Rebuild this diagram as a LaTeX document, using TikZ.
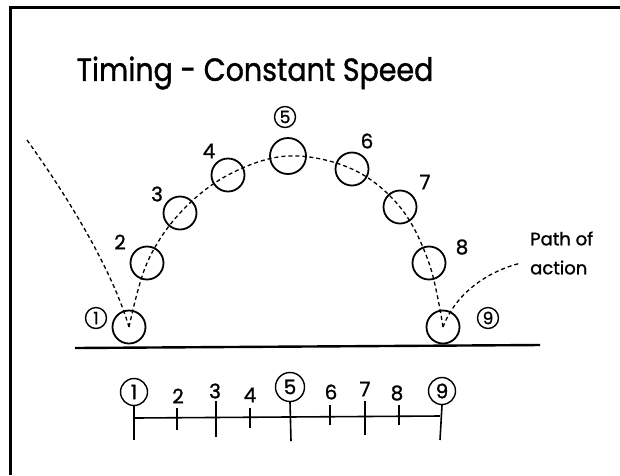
\documentclass[tikz,border=0pt]{standalone}
\usepackage{fontspec}
\setmainfont{Poppins}[UprightFeatures={FakeBold=1.2}]
\begin{document}
\begin{tikzpicture}[x=1pt,y=-1pt,
  ball/.style={draw, circle, line width=1.8pt, minimum size=33pt, inner sep=0pt},
  bigball/.style={ball, minimum size=36pt},
  num/.style={font=\fontsize{20}{20}\selectfont, inner sep=0pt},
  cnum/.style={draw, circle, line width=1.4pt, font=\fontsize{17}{17}\selectfont, inner sep=0pt, minimum size=21pt},
  tnum/.style={cnum, minimum size=27pt, font=\fontsize{20}{20}\selectfont},
  path/.style={dashed, dash pattern=on 4pt off 3pt, line width=1.3pt},
  tick/.style={line width=1.6pt}
]
\useasboundingbox (0,0) rectangle (620,475);
\fill[white] (0,0) rectangle (620,475);
% frame
\coordinate (ftl) at (10,7);
\coordinate (ftr) at (620,7);
\coordinate (fbl) at (10,475);
\draw[line width=3pt] (fbl) -- (ftl) -- (ftr);
% title
\node[font=\fontsize{32}{32}\selectfont, inner sep=0pt] (title) at (255,73) {\scalebox{0.89}[1]{Timing - Constant Speed}};
% balls
\node[ball] (b1) at (129,327) {};
\node[ball] (b2) at (147,263) {};
\node[ball] (b3) at (180,213) {};
\node[ball] (b4) at (228,175) {};
\node[bigball] (b5) at (288,156) {};
\node[ball] (b6) at (352,169) {};
\node[ball] (b7) at (400,207) {};
\node[ball] (b8) at (429,263) {};
\node[ball] (b9) at (443,327) {};
% labels
\node[cnum] (l1) at (96,318) {1};
\node[num] (l2) at (120,242) {2};
\node[num] (l3) at (157,194) {3};
\node[num] (l4) at (209,151) {4};
\node[cnum] (l5) at (285,117) {5};
\node[num] (l6) at (367,141) {6};
\node[num] (l7) at (425,182) {7};
\node[num] (l8) at (462,247) {8};
\node[cnum] (l9) at (488,318) {9};
\node[font=\fontsize{18}{29}\selectfont, align=left, inner sep=0pt, anchor=west] (poa) at (530,253) {Path of\\action};
% path of action
\coordinate (pstart) at (27,140);
\coordinate (pend) at (521,263);
\draw[path] (pstart) .. controls (70,200) and (112,270) .. (b1.center);
\draw[path] plot[smooth, tension=0.6] coordinates {(b1.center) (b2.center) (b3.center) (b4.center) (b5.center) (b6.center) (b7.center) (b8.center) (b9.center)};
\draw[path] (b9.center) .. controls (455,295) and (485,272) .. (pend);
% ground
\coordinate (g1) at (75,348);
\coordinate (g2) at (540,345);
\draw[line width=2.4pt] (g1) -- (g2);
% timeline
\coordinate (t1) at (134,418);
\coordinate (t9) at (440,416);
\draw[tick] (t1) -- (t9);
\node[tnum] (n1) at (134,392) {1};
\node[num] (n2) at (178,396) {2};
\node[num] (n3) at (215,391) {3};
\node[num] (n4) at (250,395) {4};
\node[tnum, minimum size=29pt] (n5) at (290,387) {5};
\node[num] (n6) at (331,392) {6};
\node[num] (n7) at (365,389) {7};
\node[num] (n8) at (397,393) {8};
\node[tnum] (n9) at (442,391) {9};
\coordinate (e1) at (134,440);
\coordinate (e5) at (291,441);
\coordinate (e9) at (440,440);
\draw[tick] (n1.south) -- (e1);
\draw[tick] (n5.south) -- (e5);
\draw[tick] (n9.south) -- (e9);
\draw[tick] (177,408) -- (177,430);
\draw[tick] (216,401) -- (216,437);
\draw[tick] (250,408) -- (250,428);
\draw[tick] (330,405) -- (330,425);
\draw[tick] (365,401) -- (365,435);
\draw[tick] (399,405) -- (399,425);
\end{tikzpicture}
\end{document}
